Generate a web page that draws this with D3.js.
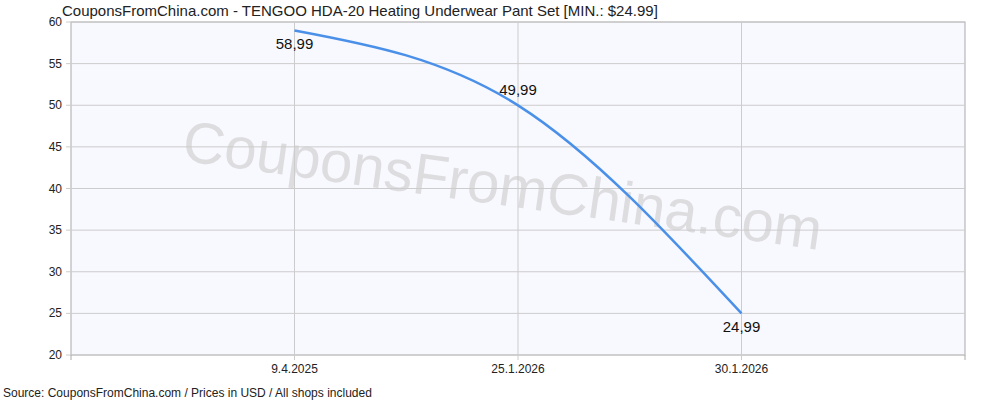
<html>
<body style="margin:0;background:#fff">
<svg id="chart" width="1000" height="400"></svg>
<script src="https://d3js.org/d3.v7.min.js"></script>
<script>
var dates = ["9.4.2025", "25.1.2026", "30.1.2026"];
var prices = [58.99, 49.99, 24.99];
var yTicks = [20, 25, 30, 35, 40, 45, 50, 55, 60];

var pLeft = 71, pRight = 965, pTop = 22, pBottom = 355;
var svg = d3.select("#chart").style("font-family", "Arial, 'Liberation Sans', sans-serif");

var x = d3.scaleLinear().domain([0, 4]).range([pLeft, pRight]);
var y = d3.scaleLinear().domain([20, 60]).range([pBottom, pTop]);

svg.append("rect").attr("x", pLeft).attr("y", pTop).attr("width", pRight - pLeft).attr("height", pBottom - pTop)
  .attr("fill", "#f8f8ff").attr("stroke", "#aaa");

svg.selectAll("line.h").data(yTicks).enter().append("line")
  .attr("x1", pLeft - 5).attr("x2", pRight).attr("y1", function(d){return y(d);}).attr("y2", function(d){return y(d);})
  .attr("stroke", "#ccc");
svg.selectAll("text.yl").data(yTicks).enter().append("text")
  .attr("x", pLeft - 9).attr("y", function(d){return y(d) + 4;}).attr("text-anchor", "end")
  .attr("font-size", 12).attr("fill", "#222").text(function(d){return d;});

svg.selectAll("line.v").data(dates).enter().append("line")
  .attr("x1", function(d, i){return x(i + 1);}).attr("x2", function(d, i){return x(i + 1);})
  .attr("y1", pTop).attr("y2", pBottom + 5).attr("stroke", "#ccc");
svg.selectAll("line.t").data([0, 4]).enter().append("line")
  .attr("x1", function(d){return x(d);}).attr("x2", function(d){return x(d);})
  .attr("y1", pBottom).attr("y2", pBottom + 5).attr("stroke", "#aaa");
svg.selectAll("text.xl").data(dates).enter().append("text")
  .attr("x", function(d, i){return x(i + 1);}).attr("y", 373).attr("text-anchor", "middle")
  .attr("font-size", 12).attr("fill", "#222").text(function(d){return d;});

svg.append("text").attr("x", 500).attr("y", 205).attr("text-anchor", "middle")
  .attr("transform", "rotate(8,500,205)").attr("font-size", 58).attr("fill", "#ccc").attr("opacity", 0.6)
  .text("CouponsFromChina.com");

var line = d3.line().x(function(d, i){return x(i + 1);}).y(function(d){return y(d);}).curve(d3.curveMonotoneX);
svg.append("path").attr("d", line(prices)).attr("fill", "none").attr("stroke", "#4a90e8").attr("stroke-width", 2.5);

svg.selectAll("text.pl").data(prices).enter().append("text")
  .attr("x", function(d, i){return x(i + 1);})
  .attr("y", function(d, i){return y(d) + (i == 1 ? -10 : 19);})
  .attr("text-anchor", "middle").attr("font-size", 15).attr("fill", "#111")
  .text(function(d){return d.toFixed(2).replace(".", ",");});

svg.append("text").attr("x", 62).attr("y", 16).attr("font-size", 15).attr("fill", "#222")
  .text("CouponsFromChina.com - TENGOO HDA-20 Heating Underwear Pant Set [MIN.: $24.99]");
svg.append("text").attr("x", 3).attr("y", 397).attr("font-size", 12).attr("fill", "#222")
  .text("Source: CouponsFromChina.com / Prices in USD / All shops included");
</script>
</body>
</html>
